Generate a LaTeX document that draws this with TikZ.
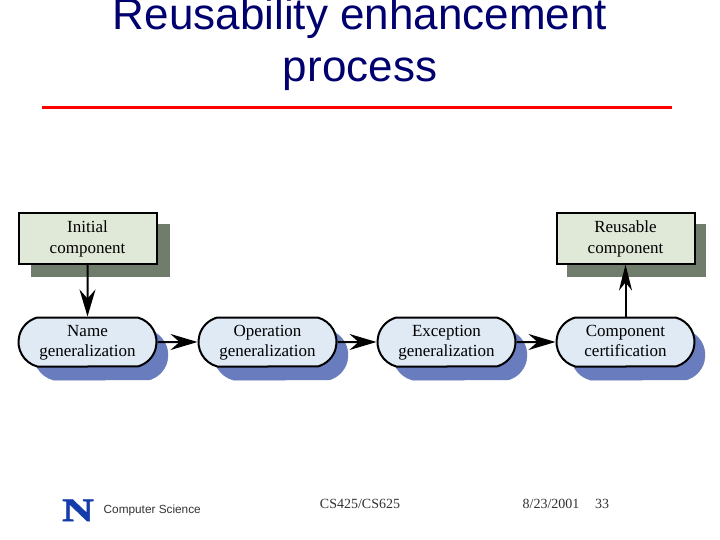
\documentclass[tikz,border=0pt]{standalone}
\usepackage{fontspec}
\setmainfont{Liberation Serif}
\newfontfamily\arialf{Liberation Sans}
\newfontfamily\logof[FakeStretch=1.36,FakeBold=2]{Liberation Serif Bold}
\usetikzlibrary{arrows.meta,shapes.misc}
\definecolor{navy}{RGB}{0,0,110}
\definecolor{boxfill}{RGB}{224,232,216}
\definecolor{pillfill}{RGB}{224,234,245}
\definecolor{boxshadow}{RGB}{112,125,108}
\definecolor{pillshadow}{RGB}{105,125,190}
\definecolor{logoblue}{RGB}{20,60,170}
\tikzset{
  x=1pt,y=-1pt,
  boxnode/.style={draw=black,line width=2pt,fill=boxfill,minimum width=138pt,minimum height=50pt,inner sep=0pt,align=center,font=\fontsize{17}{21}\selectfont},
  boxshade/.style={fill=boxshadow,minimum width=139pt,minimum height=53pt,inner sep=0pt},
  pillnode/.style={rounded rectangle,rounded rectangle arc length=150,draw=black,line width=2pt,fill=pillfill,minimum width=138pt,minimum height=49pt,inner sep=0pt,align=center,font=\fontsize{17}{20}\selectfont},
  pillshade/.style={rounded rectangle,rounded rectangle arc length=150,fill=pillshadow,draw=pillshadow,line width=0.5pt,minimum width=134pt,minimum height=50pt,inner sep=0pt},
  conn/.style={line width=2pt,-{Stealth[length=27pt,width=16pt,inset=9pt]}},
  connsmall/.style={line width=2pt,-{Stealth[length=26pt,width=13pt,inset=8pt]}},
  foot/.style={font=\fontsize{14}{16}\selectfont,text=black!80,inner sep=0pt,anchor=base},
}
\begin{document}
\begin{tikzpicture}
\useasboundingbox (0,0) rectangle (720,540);
\fill[white] (0,0) rectangle (720,540);
\begin{scope}
\clip (0,0) rectangle (720,540);
\node[font=\arialf\fontsize{44}{52}\selectfont,text=navy,inner sep=0pt,anchor=base] (t1) at (360,29.5) {Reusability enhancement};
\node[font=\arialf\fontsize{44}{52}\selectfont,text=navy,inner sep=0pt,anchor=base] (t2) at (360,82) {process};
\end{scope}
\fill[red] (42,106) rectangle (672,109.5);
% shadows
\node[boxshade] (s1) at (100.5,250.5) {};
\node[boxshade] (s6) at (636.5,250.5) {};
\node[pillshade] (s2) at (101,355) {};
\node[pillshade] (s3) at (281,355) {};
\node[pillshade] (s4) at (460,355) {};
\node[pillshade] (s5) at (638,355) {};
% nodes
\node[boxnode] (init) at (87.5,238.5) {Initial\strut\\component\strut};
\node[boxnode] (reuse) at (625.5,238.5) {Reusable\strut\\component\strut};
\node[pillnode] (name) at (87.5,342) {Name\strut\\generalization\strut};
\node[pillnode] (oper) at (267.5,342) {Operation\strut\\generalization\strut};
\node[pillnode] (exce) at (446.5,342) {Exception\strut\\generalization\strut};
\node[pillnode] (cert) at (625.5,342) {Component\strut\\certification\strut};
% connectors
\draw[conn] (init) -- (name);
\draw[conn] (name) -- (oper);
\draw[conn] (oper) -- (exce);
\draw[conn] (exce) -- (cert);
\draw[connsmall] (cert.north) -- (reuse.south);
% footer
\node[font=\logof\fontsize{32.5}{33}\selectfont,text=logoblue,inner sep=0pt,anchor=base] (logo) at (78,521) {N};
\node[font=\arialf\fontsize{11.8}{13}\selectfont,text=black!80,inner sep=0pt,anchor=base west] (cs) at (103.5,513) {Computer Science};
\node[foot] (course) at (360,508.5) {CS425/CS625};
\node[foot] (date) at (551,508.5) {8/23/2001};
\node[foot] (num) at (602,508.5) {33};
\end{tikzpicture}
\end{document}
